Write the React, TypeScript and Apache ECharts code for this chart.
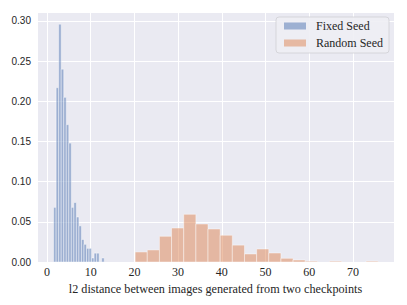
import React, { useEffect, useRef } from "react";
import * as echarts from "echarts";

// Histogram densities (20 bins each)
const fixedSeedBinStart = 1.52;
const fixedSeedBinWidth = 0.579;
const fixedSeedDensity = [
  0.068, 0.217, 0.296, 0.24, 0.205, 0.171, 0.148, 0.068, 0.074, 0.056,
  0.045, 0.028, 0.022, 0.017, 0.017, 0.005, 0.011, 0.011, 0, 0.005,
];

const randomSeedBinStart = 20.17;
const randomSeedBinWidth = 2.78;
const randomSeedDensity = [
  0.0125, 0.015, 0.032, 0.0423, 0.0594, 0.0473, 0.0411, 0.0333, 0.021, 0.01,
  0.0162, 0.0112, 0.0046, 0.0025, 0.001, 0, 0.001, 0, 0, 0.001,
];

const seriesNames = ["Fixed Seed", "Random Seed"];
const xLabel = "l2 distance between images generated from two checkpoints";

const BLUE = "rgba(76,114,176,0.5)";
const ORANGE = "rgba(221,132,82,0.5)";

function binsToData(start: number, width: number, dens: number[]) {
  return dens.map((d, i) => [start + i * width, start + (i + 1) * width, d]);
}

function makeRender(fill: string) {
  return (params: any, api: any) => {
    const x0 = api.value(0);
    const x1 = api.value(1);
    const y = api.value(2);
    if (!y) return null;
    const p0 = api.coord([x0, y]);
    const p1 = api.coord([x1, 0]);
    return {
      type: "rect",
      shape: { x: p0[0], y: p0[1], width: p1[0] - p0[0], height: p1[1] - p0[1] },
      style: { fill, stroke: "rgba(255,255,255,0.55)", lineWidth: 0.8 },
    };
  };
}

export default function App() {
  const ref = useRef<HTMLDivElement>(null);
  useEffect(() => {
    if (!ref.current) return;
    const chart = echarts.init(ref.current, undefined, { renderer: "svg" });
    const serif = "'Liberation Serif', 'Times New Roman', serif";
    const sans = "'Liberation Sans', Arial, sans-serif";
    chart.setOption({
      animation: false,
      backgroundColor: "#ffffff",
      grid: {
        left: 37,
        right: 13,
        top: 12,
        bottom: 43,
        show: true,
        backgroundColor: "#EAEAF2",
        borderWidth: 0,
        containLabel: false,
      },
      legend: {
        orient: "vertical",
        right: 18,
        top: 17,
        data: seriesNames,
        icon: "rect",
        itemWidth: 22,
        itemHeight: 7,
        itemGap: 5,
        padding: [3, 6, 4, 8],
        backgroundColor: "rgba(238,238,244,0.9)",
        borderColor: "#cfcfd4",
        borderWidth: 0.8,
        borderRadius: 3,
        textStyle: {
          fontFamily: serif,
          fontSize: 12,
          color: "#262626",
          padding: [0, 0, 0, 5],
        },
      },
      xAxis: {
        type: "value",
        min: -2.28,
        max: 79.4,
        splitNumber: 8,
        axisLine: { show: false },
        axisTick: { show: false },
        splitLine: { show: true, lineStyle: { color: "#ffffff", width: 1 } },
        axisLabel: {
          showMinLabel: false,
          showMaxLabel: false,
          margin: 4,
          fontFamily: serif,
          fontSize: 12,
          color: "#262626",
          formatter: (v: number) => String(Math.round(v)),
        },
        name: xLabel,
        nameLocation: "middle",
        nameGap: 18,
        nameTextStyle: { fontFamily: serif, fontSize: 12.2, color: "#262626" },
      },
      yAxis: {
        type: "value",
        min: 0,
        max: 0.3112,
        interval: 0.05,
        axisLine: { show: false },
        axisTick: { show: false },
        splitLine: { show: true, lineStyle: { color: "#ffffff", width: 1 } },
        axisLabel: {
          showMaxLabel: false,
          margin: 6,
          fontFamily: sans,
          fontSize: 10,
          color: "#262626",
          formatter: (v: number) => v.toFixed(2),
        },
      },
      series: [
        {
          name: seriesNames[0],
          type: "custom",
          renderItem: makeRender(BLUE),
          itemStyle: { color: BLUE },
          encode: { x: [0, 1], y: 2 },
          data: binsToData(fixedSeedBinStart, fixedSeedBinWidth, fixedSeedDensity),
        },
        {
          name: seriesNames[1],
          type: "custom",
          renderItem: makeRender(ORANGE),
          itemStyle: { color: ORANGE },
          encode: { x: [0, 1], y: 2 },
          data: binsToData(randomSeedBinStart, randomSeedBinWidth, randomSeedDensity),
        },
      ],
    });
    return () => chart.dispose();
  }, []);
  return (
    <div
      ref={ref}
      style={{ position: "fixed", left: 0, top: 0, width: 407, height: 305 }}
    />
  );
}
